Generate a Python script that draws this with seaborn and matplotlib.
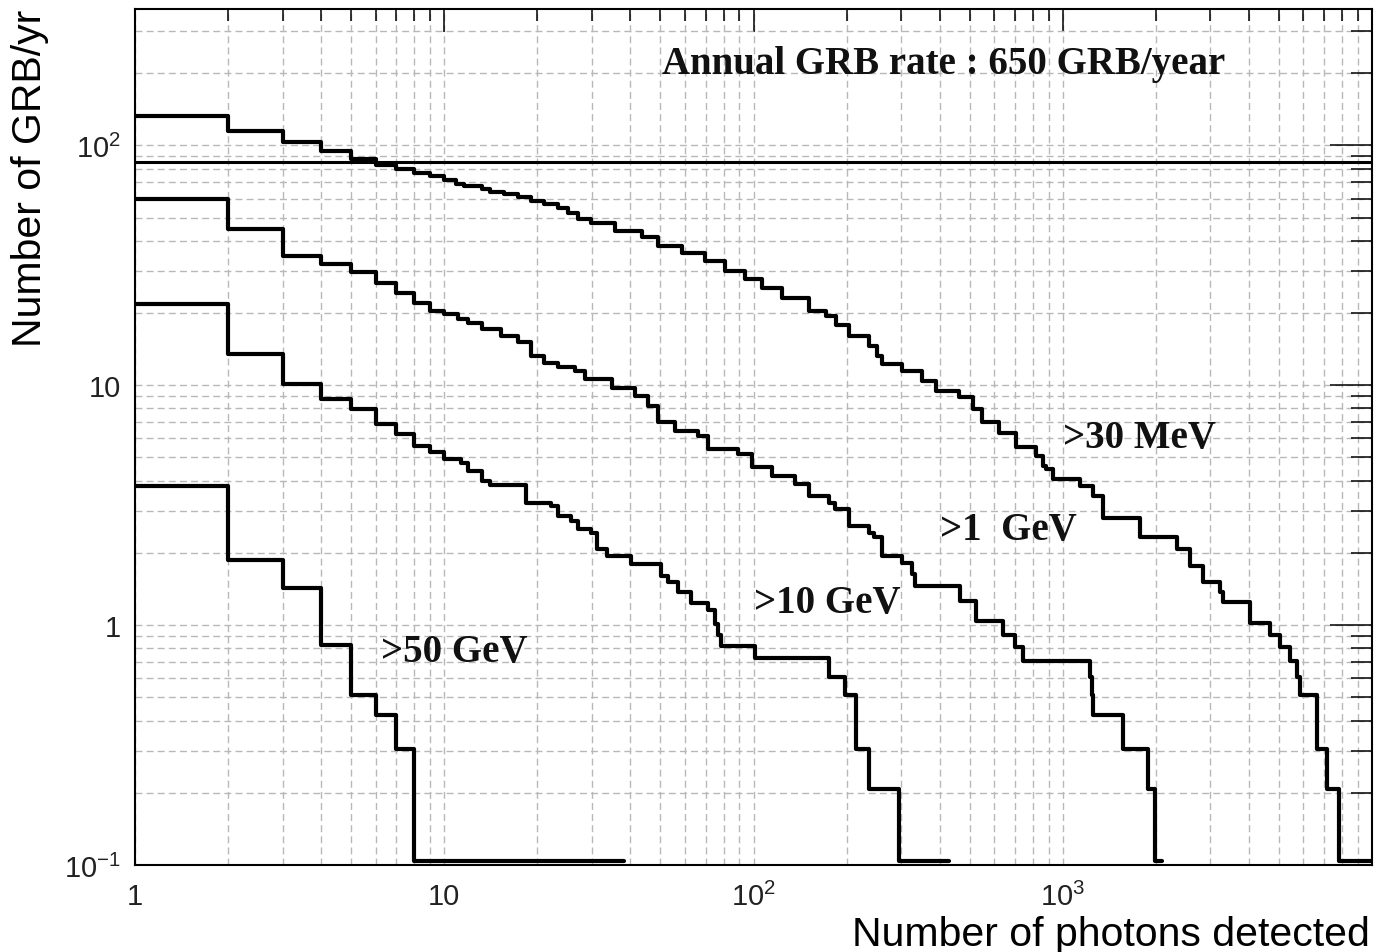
import numpy as np
import pandas as pd
import matplotlib
matplotlib.use("Agg")
import matplotlib.pyplot as plt
import seaborn as sns
from matplotlib.ticker import FixedLocator, FixedFormatter, LogLocator, NullFormatter

# ---------------- data ----------------
# each curve: step start edges (photons detected) and level (GRB / yr) on each step
edges_30mev = [1, 2, 3, 4, 5, 6, 7, 8, 9, 10, 10.9, 11.6, 13.2, 14.1, 15.6, 17.3, 19.1, 21.0,
               23.3, 25.1, 27.1, 29.9, 35.6, 43.5, 49.2, 58.6, 69.7, 80.9, 94.0, 106.5, 123.6,
               151, 171, 185, 203, 236, 250, 261, 303, 351, 388, 462, 511, 550, 623, 706, 820,
               862, 884, 929, 1133, 1253, 1349, 1775, 2333, 2578, 2846, 3223, 3304, 4035, 4688,
               5052, 5445, 5720, 5866, 6640, 7150, 7800]
levels_30mev = [132, 115, 103, 95, 87.5, 83, 80, 77, 74.5, 72, 69, 67.5, 65.6, 64, 62.5, 61, 58.7,
                57, 55, 52, 49.2, 47.5, 44, 41.3, 38, 35.7, 33, 29.9, 27.7, 25.5, 23.2, 20.4,
                19.4, 17.8, 16.1, 14.6, 13.2, 12.2, 11.5, 10.4, 9.47, 8.89, 7.94, 7.0, 6.35, 5.5,
                5.07, 4.61, 4.47, 4.06, 3.80, 3.46, 2.8, 2.34, 2.07, 1.77, 1.51, 1.37, 1.25, 1.02,
                0.91, 0.81, 0.71, 0.61, 0.51, 0.304, 0.207, 0.104]
end_30mev = 10000

edges_1gev = [1, 2, 3, 4, 5, 6, 7, 8, 9, 10, 11.05, 11.9, 13.2, 15.3, 17.3, 19.1, 21.0, 23.3,
              26.4, 28.5, 34.8, 41.4, 45.7, 49.2, 55.7, 66.3, 71.4, 89.4, 98.8, 114.7, 136, 151,
              175, 184, 203, 236, 245, 261, 303, 326, 334, 467, 524, 640, 700, 743, 1222, 1240,
              1253, 1566, 1888, 1982]
levels_1gev = [60, 44.7, 34.6, 31.9, 29.5, 26.6, 24.3, 22.1, 20.4, 19.8, 18.8, 18.2, 17.1, 16.1,
               15.1, 13.2, 12.4, 11.9, 11.5, 10.6, 9.78, 9.02, 8.19, 7.0, 6.46, 6.16, 5.41, 5.16,
               4.54, 4.19, 3.87, 3.46, 3.24, 3.04, 2.59, 2.43, 2.32, 1.95, 1.82, 1.63, 1.46, 1.26,
               1.04, 0.91, 0.81, 0.71, 0.61, 0.51, 0.42, 0.304, 0.207, 0.104]
end_1gev = 2090

edges_10gev = [1, 2, 3, 4, 5, 6, 7, 8, 9, 10, 11.3, 11.9, 13.2, 14.1, 18.4, 22.2, 23.3, 25.7,
               27.1, 29.9, 31.3, 33.7, 40.3, 50.4, 52.8, 57.1, 63.0, 71.4, 75, 77, 78.7, 101,
               175, 198, 214, 236, 295]
levels_10gev = [21.8, 13.5, 10.1, 8.74, 7.99, 6.88, 6.25, 5.59, 5.25, 4.92, 4.76, 4.40, 3.99,
                3.85, 3.24, 3.14, 2.85, 2.72, 2.51, 2.42, 2.07, 1.95, 1.80, 1.60, 1.51, 1.37, 1.24,
                1.16, 1.01, 0.91, 0.82, 0.73, 0.61, 0.51, 0.304, 0.207, 0.104]
end_10gev = 430

edges_50gev = [1, 2, 3, 4, 5, 6, 7, 8]
levels_50gev = [3.80, 1.86, 1.43, 0.83, 0.51, 0.42, 0.305, 0.104]
end_50gev = 38

annual_rate_line = 85

x_ticks = [1, 10, 100, 1000]
x_ticklabels = ["1", "10", r"$10^{2}$", r"$10^{3}$"]
y_ticks = [0.1, 1, 10, 100]
y_ticklabels = [r"$10^{-1}$", "1", "10", r"$10^{2}$"]

band_labels = [">30 MeV", ">1  GeV", ">10 GeV", ">50 GeV"]
band_label_pos = [(1000, 5.52), (402, 2.28), (100, 1.13), (6.23, 0.708)]
title_text = "Annual GRB rate : 650 GRB/year"
title_pos = (50.5, 201)

# ---------------- build long table ----------------
series = [
    (band_labels[0], edges_30mev, levels_30mev, end_30mev),
    (band_labels[1], edges_1gev, levels_1gev, end_1gev),
    (band_labels[2], edges_10gev, levels_10gev, end_10gev),
    (band_labels[3], edges_50gev, levels_50gev, end_50gev),
]
rows = []
for name, ed, lv, end in series:
    xs = list(ed) + [end]
    ys = list(lv) + [lv[-1]]
    for xv, yv in zip(xs, ys):
        rows.append({"band": name, "x": xv, "y": yv})
df = pd.DataFrame(rows)

# ---------------- style ----------------
sns.set_style("white")
plt.rcParams["font.family"] = ["Liberation Sans", "DejaVu Sans"]
plt.rcParams["mathtext.fontset"] = "custom"
plt.rcParams["mathtext.rm"] = "Liberation Sans"
plt.rcParams["mathtext.it"] = "Liberation Sans:italic"
plt.rcParams["mathtext.bf"] = "Liberation Sans:bold"

W, H = 1378, 953
fig = plt.figure(figsize=(W / 100, H / 100), dpi=100)
ax = fig.add_axes([135 / W, (H - 866) / H, (1372 - 135) / W, (866 - 10) / H])
ax.set_xscale("log")
ax.set_yscale("log")

sns.lineplot(data=df, x="x", y="y", units="band", estimator=None, sort=False,
             drawstyle="steps-post", color="black", lw=3.0, legend=False, ax=ax)

ax.axhline(annual_rate_line, color="black", lw=2.2, zorder=3)

ax.set_xlim(1, 1e4)
ax.set_ylim(0.1, 370)

# ticks
ax.xaxis.set_major_locator(FixedLocator(x_ticks))
ax.xaxis.set_major_formatter(FixedFormatter(x_ticklabels))
ax.yaxis.set_major_locator(FixedLocator(y_ticks))
ax.yaxis.set_major_formatter(FixedFormatter(y_ticklabels))
ax.xaxis.set_minor_locator(LogLocator(base=10, subs=np.arange(2, 10), numticks=20))
ax.yaxis.set_minor_locator(LogLocator(base=10, subs=np.arange(2, 10), numticks=20))
ax.xaxis.set_minor_formatter(NullFormatter())
ax.yaxis.set_minor_formatter(NullFormatter())

ax.tick_params(which="both", direction="in", top=True, right=True, color="black", width=1.1)
ax.tick_params(axis="x", which="major", length=16.5, pad=12, labelsize=21, labelcolor="#222222")
ax.tick_params(axis="x", which="minor", length=8.5)
ax.tick_params(axis="y", which="major", length=30, pad=10, labelsize=21, labelcolor="#222222")
ax.tick_params(axis="y", which="minor", length=15)

ax.set_xlabel("")
ax.set_ylabel("")
for sp in ax.spines.values():
    sp.set_visible(True)
    sp.set_color("black")
    sp.set_linewidth(1.5)

ax.grid(True, which="both", ls=(0, (5, 3)), color="#b8b8b8", lw=1.0)
ax.set_axisbelow(True)

# annotations
serif = ["Liberation Serif", "DejaVu Serif"]
ax.text(title_pos[0], title_pos[1], title_text, family=serif, fontweight="bold",
        fontsize=28, ha="left", va="baseline", color="#111111")
for lab, (px, py) in zip(band_labels, band_label_pos):
    ax.text(px, py, lab, family=serif, fontweight="bold", fontsize=28,
            ha="left", va="baseline", color="#111111")

# axis titles
fig.text(1370 / W, 1 - 946 / H, "Number of photons detected", fontsize=29.5,
         ha="right", va="baseline", color="black")
fig.text(30 / W, 1 - 10 / H, "Number of GRB/yr", fontsize=29.5, rotation=90,
         ha="center", va="top", color="black")

fig.savefig("out.png", dpi=100)
